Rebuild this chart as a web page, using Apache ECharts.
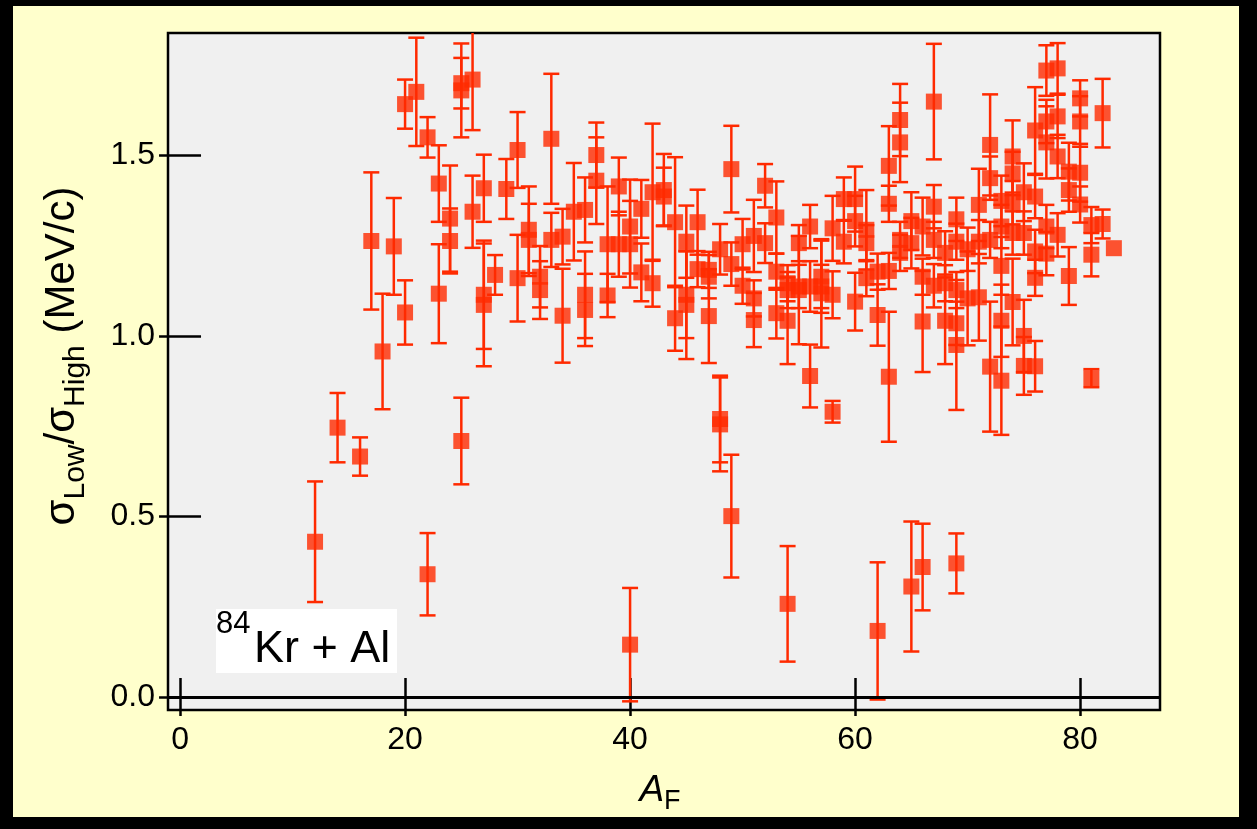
<!DOCTYPE html>
<html>
<head>
<meta charset="utf-8">
<script src="https://cdn.jsdelivr.net/npm/echarts@6/dist/echarts.min.js"></script>
<style>
  html, body { margin: 0; padding: 0; background: #000; }
  #bg { position: absolute; left: 13px; top: 6px; width: 1226px; height: 811px; background: #ffffcc; }
  #chart { position: absolute; left: 0; top: 0; width: 1257px; height: 829px; }
</style>
</head>
<body>
<div id="bg"></div>
<div id="chart"></div>
<script>
// fragment mass number A_F, one entry per measured isotope
var massNumber = [
  12, 14, 16, 17, 18, 19, 20, 20, 21, 22, 22, 23, 23, 24, 24, 25, 25, 25, 26, 26,
  27, 27, 27, 28, 29, 30, 30, 31, 31, 32, 32, 33, 33, 34, 34, 35, 36, 36, 36, 37,
  37, 38, 38, 39, 39, 40, 40, 40, 41, 41, 42, 42, 43, 43, 44, 44, 45, 45, 45, 46,
  46, 47, 47, 47, 48, 48, 48, 49, 49, 49, 50, 50, 51, 51, 51, 52, 52, 53, 53, 53,
  54, 54, 54, 54, 55, 55, 55, 56, 56, 56, 57, 57, 57, 58, 58, 58, 59, 59, 60, 60,
  60, 61, 61, 61, 62, 62, 62, 63, 63, 63, 63, 64, 64, 64, 64, 65, 65, 65, 66, 66,
  66, 66, 67, 67, 67, 67, 68, 68, 68, 69, 69, 69, 69, 69, 69, 70, 70, 71, 71, 71,
  72, 72, 72, 72, 73, 73, 73, 73, 73, 74, 74, 74, 74, 74, 75, 75, 75, 75, 76, 76,
  76, 76, 76, 77, 77, 77, 77, 77, 78, 78, 78, 78, 79, 79, 79, 80, 80, 80, 80, 81,
  81, 81, 82, 82, 83
];
// sigma_low / sigma_high
var ratio = [
  0.43, 0.746, 0.666, 1.263, 0.957, 1.248, 1.642, 1.065, 1.676, 1.55, 0.34, 1.422, 1.117, 1.325, 1.263, 1.70, 1.68, 0.709, 1.71, 1.344,
  1.409, 1.114, 1.086, 1.169, 1.407, 1.515, 1.16, 1.294, 1.266, 1.164, 1.127, 1.546, 1.266, 1.275, 1.056, 1.344, 1.349, 1.114, 1.072, 1.501,
  1.43, 1.254, 1.112, 1.414, 1.254, 1.303, 1.254, 0.145, 1.352, 1.176, 1.398, 1.146, 1.404, 1.386, 1.315, 1.049, 1.261, 1.114, 1.086, 1.315,
  1.185, 1.183, 1.164, 1.055, 1.24, 0.77, 0.755, 1.462, 1.199, 0.501, 1.254, 1.139, 1.277, 1.104, 1.044, 1.416, 1.257, 1.328, 1.178, 1.063,
  1.146, 1.127, 1.042, 0.258, 1.257, 1.137, 1.127, 1.303, 1.137, 0.889, 1.164, 1.137, 1.118, 1.298, 1.114, 0.79, 1.379, 1.261, 1.379, 1.318,
  1.095, 1.294, 1.257, 1.16, 1.178, 1.058, 0.183, 1.471, 1.366, 1.18, 0.887, 1.598, 1.536, 1.266, 1.23, 1.318, 1.257, 0.306, 1.303, 1.164,
  1.04, 0.36, 1.649, 1.358, 1.266, 1.139, 1.23, 1.146, 1.042, 1.323, 1.261, 1.127, 1.035, 0.975, 0.37, 1.24, 1.104, 1.363, 1.261, 1.107,
  1.529, 1.437, 1.266, 0.915, 1.374, 1.303, 1.194, 1.042, 0.876, 1.497, 1.45, 1.369, 1.285, 1.094, 1.398, 1.285, 1.0, 0.917, 1.569, 1.386,
  1.234, 1.161, 0.916, 1.735, 1.594, 1.536, 1.303, 1.228, 1.741, 1.608, 1.497, 1.28, 1.455, 1.404, 1.166, 1.658, 1.594, 1.452, 1.364, 1.307,
  1.225, 0.883, 1.617, 1.31, 1.243
];
// symmetric uncertainty on the ratio
var ratioErr = [
  0.167, 0.096, 0.053, 0.19, 0.16, 0.134, 0.068, 0.089, 0.15, 0.056, 0.114, 0.106, 0.137, 0.147, 0.09, 0.07, 0.13, 0.12, 0.14, 0.1,
  0.093, 0.15, 0.17, 0.055, 0.083, 0.105, 0.12, 0.12, 0.1, 0.085, 0.08, 0.18, 0.075, 0.077, 0.13, 0.135, 0.09, 0.12, 0.1, 0.09,
  0.12, 0.16, 0.06, 0.08, 0.09, 0.13, 0.12, 0.157, 0.08, 0.08, 0.19, 0.065, 0.1, 0.08, 0.18, 0.09, 0.1, 0.12, 0.15, 0.09,
  0.05, 0.05, 0.06, 0.13, 0.07, 0.12, 0.13, 0.12, 0.06, 0.17, 0.07, 0.05, 0.1, 0.05, 0.075, 0.06, 0.055, 0.1, 0.05, 0.07,
  0.05, 0.05, 0.12, 0.16, 0.05, 0.06, 0.15, 0.06, 0.07, 0.087, 0.1, 0.06, 0.15, 0.09, 0.065, 0.03, 0.06, 0.06, 0.09, 0.07,
  0.08, 0.11, 0.05, 0.05, 0.05, 0.085, 0.19, 0.11, 0.05, 0.05, 0.18, 0.1, 0.11, 0.05, 0.05, 0.08, 0.07, 0.18, 0.08, 0.05,
  0.14, 0.12, 0.16, 0.06, 0.05, 0.06, 0.06, 0.05, 0.12, 0.06, 0.05, 0.05, 0.06, 0.18, 0.083, 0.06, 0.13, 0.1, 0.06, 0.12,
  0.14, 0.06, 0.05, 0.18, 0.07, 0.06, 0.08, 0.1, 0.15, 0.1, 0.06, 0.06, 0.06, 0.12, 0.08, 0.06, 0.1, 0.08, 0.12, 0.06,
  0.06, 0.05, 0.07, 0.07, 0.06, 0.1, 0.06, 0.06, 0.07, 0.06, 0.06, 0.06, 0.08, 0.06, 0.08, 0.05, 0.07, 0.08, 0.05, 0.05,
  0.06, 0.025, 0.095, 0.04, 0
];
var xTicks = [0, 20, 40, 60, 80];
var yTicks = [0, 0.5, 1.0, 1.5];

var red = '#ff2a00';
var font = 'Liberation Sans, Arial, Helvetica, sans-serif';

var points = [];
var bars = [];
for (var i = 0; i < massNumber.length; i++) {
  points.push([massNumber[i], ratio[i]]);
  if (ratioErr[i] > 0) {
    bars.push([massNumber[i], ratio[i] - ratioErr[i], ratio[i] + ratioErr[i]]);
  }
}

function renderErr(params, api) {
  var x = api.value(0);
  var top = api.coord([x, api.value(2)]);
  var bot = api.coord([x, api.value(1)]);
  var w = 8;
  var st = { stroke: red, lineWidth: 2.5 };
  return {
    type: 'group',
    children: [
      { type: 'line', shape: { x1: top[0], y1: top[1], x2: bot[0], y2: bot[1] }, style: st },
      { type: 'line', shape: { x1: top[0] - w, y1: top[1], x2: top[0] + w, y2: top[1] }, style: st },
      { type: 'line', shape: { x1: bot[0] - w, y1: bot[1], x2: bot[0] + w, y2: bot[1] }, style: st }
    ]
  };
}

var tickStyle = { color: '#000', width: 2.5 };

var myChart = echarts.init(document.getElementById('chart'), null, { renderer: 'canvas' });

var option = {
  animation: false,
  backgroundColor: 'transparent',
  grid: {
    left: 168, top: 33, right: 97, bottom: 119,
    show: true, backgroundColor: '#f0f0f0', borderColor: '#000', borderWidth: 2.5
  },
  xAxis: [
    {
      type: 'value', min: -1.07, max: 87.1, position: 'bottom',
      axisLine: { show: false },
      splitLine: { show: false },
      axisTick: { inside: true, length: 19, lineStyle: tickStyle, customValues: xTicks },
      axisLabel: { customValues: xTicks, color: '#000', fontSize: 32, fontFamily: font, margin: 14 }
    },
    {
      type: 'value', min: -1.07, max: 87.1, position: 'top',
      axisLine: { show: false },
      splitLine: { show: false },
      axisTick: { inside: true, length: 19, lineStyle: tickStyle, customValues: xTicks },
      axisLabel: { show: false }
    }
  ],
  yAxis: [
    {
      type: 'value', min: -0.036, max: 1.839, position: 'left',
      axisLine: { show: false },
      splitLine: { show: false },
      axisTick: { inside: true, length: 21, lineStyle: tickStyle, customValues: yTicks },
      axisLabel: {
        customValues: yTicks, color: '#000', fontSize: 32, fontFamily: font, margin: 13,
        formatter: function (v) { return v.toFixed(1); }
      }
    },
    {
      type: 'value', min: -0.036, max: 1.839, position: 'right',
      axisLine: { show: false },
      splitLine: { show: false },
      axisTick: { inside: true, length: 21, lineStyle: tickStyle, customValues: yTicks },
      axisLabel: { show: false }
    }
  ],
  graphic: [
    {
      type: 'text', x: 66, y: 356, rotation: Math.PI / 2,
      style: {
        text: '{m|σ}{s|Low}{m|/σ}{s|High}{m| (MeV/c)}',
        align: 'center', verticalAlign: 'middle', fill: '#000',
        rich: {
          m: { fontSize: 42, fontFamily: font, verticalAlign: 'top', lineHeight: 42 },
          s: { fontSize: 30, fontFamily: font, verticalAlign: 'top', padding: [20, 0, 0, 0] }
        }
      }
    },
    {
      type: 'text', x: 660, y: 794,
      style: {
        text: '{a|A}{s|F}',
        align: 'center', verticalAlign: 'middle', fill: '#000',
        rich: {
          a: { fontSize: 37, fontFamily: font, fontStyle: 'italic', verticalAlign: 'top', lineHeight: 37 },
          s: { fontSize: 27, fontFamily: font, verticalAlign: 'top', padding: [16, 0, 0, 0] }
        }
      }
    },
    {
      type: 'rect', shape: { x: 216, y: 609, width: 181, height: 64 },
      style: { fill: '#fff' }, z: 5
    },
    {
      type: 'text', x: 216, y: 624, z: 6,
      style: { text: '84', fontSize: 31, fontFamily: font, fill: '#000', verticalAlign: 'middle' }
    },
    {
      type: 'text', x: 254, y: 650, z: 6,
      style: { text: 'Kr + Al', fontSize: 45, fontFamily: font, fill: '#000', verticalAlign: 'middle' }
    }
  ],
  series: [
    {
      type: 'custom',
      renderItem: renderErr,
      data: bars,
      clip: true,
      z: 3
    },
    {
      type: 'scatter',
      symbol: 'rect',
      symbolSize: 16,
      itemStyle: { color: red },
      data: points,
      z: 4,
      markLine: {
        silent: true,
        symbol: 'none',
        label: { show: false },
        lineStyle: { color: '#000', width: 3, type: 'solid' },
        data: [{ yAxis: 0 }]
      }
    }
  ]
};

myChart.setOption(option);
</script>
</body>
</html>
